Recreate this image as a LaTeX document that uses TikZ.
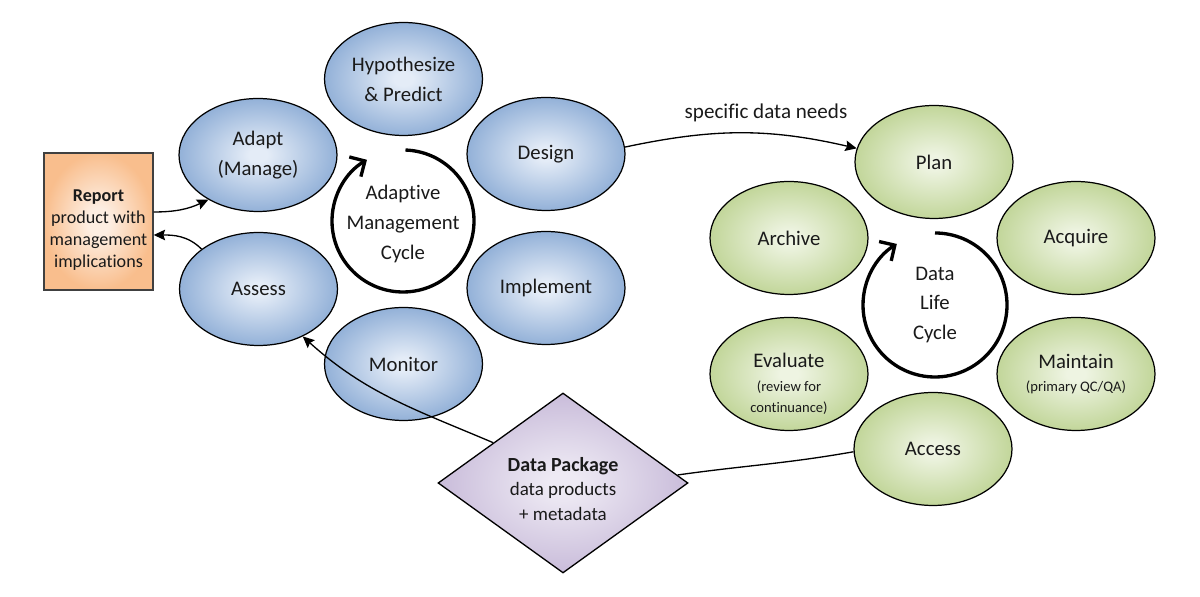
\documentclass[tikz,border=0pt]{standalone}
\usepackage{fontspec}
\setmainfont{Carlito}[Ligatures=NoCommon]
\usetikzlibrary{arrows.meta,shapes.geometric}
\definecolor{blueout}{HTML}{93B1D8}
\definecolor{bluein}{HTML}{E4ECF7}
\definecolor{greenout}{HTML}{C2D69A}
\definecolor{greenin}{HTML}{EEF4E2}
\definecolor{purpleout}{HTML}{C9BCDA}
\definecolor{purplein}{HTML}{EEEAF4}
\definecolor{orangeout}{HTML}{F9BE8D}
\definecolor{orangein}{HTML}{FDEEE2}
\definecolor{txt}{HTML}{1A1A1A}
\definecolor{repborder}{HTML}{404040}
\pgfdeclareradialshading{shblue}{\pgfpointorigin}{color(0bp)=(bluein); color(3bp)=(bluein); color(25bp)=(blueout); color(50bp)=(blueout)}
\pgfdeclareradialshading{shgreen}{\pgfpointorigin}{color(0bp)=(greenin); color(3bp)=(greenin); color(25bp)=(greenout); color(50bp)=(greenout)}
\pgfdeclareradialshading{shpurple}{\pgfpointorigin}{color(0bp)=(purplein); color(3bp)=(purplein); color(25bp)=(purpleout); color(50bp)=(purpleout)}
\pgfdeclareradialshading{shorange}{\pgfpointorigin}{color(0bp)=(orangein); color(5bp)=(orangein); color(25bp)=(orangeout); color(50bp)=(orangeout)}
\newcommand{\smallf}{\fontsize{8.3}{10}\selectfont}
\begin{document}
\begin{tikzpicture}[x=0.02cm,y=0.02cm,
  every node/.style={text=txt},
  ellbase/.style={ellipse, draw=black, line width=0.7pt, minimum width=3.16cm, minimum height=2.26cm, inner sep=0pt, align=center, font=\fontsize{11.8}{17}\selectfont},
  ellb/.style={ellbase, shading=shblue},
  ellg/.style={ellbase, shading=shgreen},
  lbl/.style={align=center, font=\fontsize{11.8}{17}\selectfont},
  conn/.style={line width=0.75pt, draw=black},
  arr/.style={conn, -{Stealth[length=6.5pt,width=6pt,inset=1pt]}},
  cyc/.style={line width=1.9pt, draw=black, -{Straight Barb[length=6.5pt,width=13pt]}}
]
\useasboundingbox (0,0) rectangle (1200,597);

% Adaptive management cycle
\node[ellb] (hyp) at (403.5,518) {Hypothesize\\\& Predict};
\node[ellb] (adapt) at (258,442) {Adapt\\(Manage)};
\node[ellb] (design) at (546,443) {Design};
\node[ellb] (impl) at (546,309) {Implement};
\node[ellb] (assess) at (258.5,308) {Assess};
\node[ellb] (monitor) at (403.5,233) {Monitor};
\node[lbl] (amc) at (403,373) {Adaptive\\Management\\Cycle};
\draw[cyc] ([shift={(88:71)}]403,376) arc[start angle=88,end angle=-239.5,radius=71];

% Data life cycle
\node[ellg] (plan) at (934,435) {Plan};
\node[ellg] (archive) at (789,359) {Archive};
\node[ellg] (acquire) at (1076,359) {Acquire};
\node[ellg] (evaluate) at (789,223) {};
\node[lbl] (evaluate-t) at (789,213) {Evaluate\\[-3.4pt]{\smallf (review for}\\[-5pt]{\smallf continuance)}};
\node[ellg] (maintain) at (1076,223) {Maintain\\[-4pt]{\smallf (primary QC/QA)}};
\node[ellg] (access) at (933,148) {Access};
\node[lbl] (dlc) at (935,292) {Data\\Life\\Cycle};
\draw[cyc] ([shift={(90:72)}]935,292) arc[start angle=90,end angle=-238,radius=72];

% Report
\node[draw=repborder, line width=0.8pt, shading=shorange, minimum width=2.18cm, minimum height=2.74cm, inner sep=0pt] (report) at (98.5,375.5) {};
\node[align=center, font=\fontsize{10.3}{12.5}\selectfont] (report-t) at (98.5,366.5) {\textbf{Report}\\product with\\management\\implications};

% Data package
\node[diamond, draw=black, line width=0.75pt, shading=shpurple, minimum width=5cm, minimum height=3.6cm, inner sep=0pt] (dp) at (563,114) {};
\node[align=center, font=\fontsize{10.8}{14}\selectfont] (dp-t) at (563,108) {{\fontsize{11.4}{14}\selectfont\textbf{Data Package}}\\data products\\+ metadata};

% Connectors
\draw[arr] (design.5) to[out=12,in=167] (plan.170);
\node[font=\fontsize{12}{14}\selectfont] (sdn) at (766,484) {specific data needs};
\draw[arr] (report.east |- 0,385) to[out=0,in=205] (adapt.222);
\draw[arr] (assess.145) to[out=135,in=0] (report.east |- 0,362);
\draw[arr] (dp.150) to[out=157,in=-42] (assess.-47);
\draw[conn] (dp.4) to[out=8,in=190] (access.182);
\end{tikzpicture}
\end{document}
